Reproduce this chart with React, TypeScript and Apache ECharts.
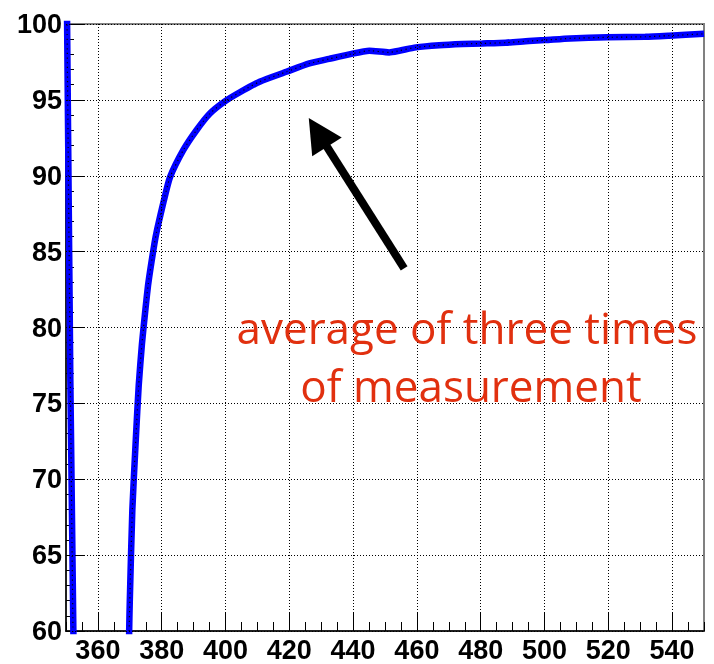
import { useEffect, useRef } from "react";
import * as echarts from "echarts";

// wavelength (nm) and value (%)
const wavelength = [
  350, 353, 360, 368, 369.5, 369.8, 370.0, 370.8, 371.9, 372.8, 373.8, 374.8, 375.8,
  377.7, 378.6, 380.6, 382.6, 386.8, 390.9, 395.1, 399.8, 404.5, 410.7, 419.1,
  426.3, 432.5, 438.8, 445.1, 451.3, 454.5, 459.7, 467.0, 474.3, 480.5, 487.8,
  495.1, 500.2, 508.0, 519.6, 531.6, 539.0, 550.0,
];
const efficiency = [
  108, 48, 0, 0, 50, 60, 62, 68, 72.7, 76.2, 78.9, 81.0, 82.9,
  85.5, 86.5, 88.3, 89.9, 91.7, 93.0, 94.1, 94.9, 95.5, 96.2, 96.85,
  97.4, 97.7, 98.0, 98.24, 98.13, 98.24, 98.46, 98.6, 98.68, 98.72, 98.77,
  98.88, 98.94, 99.05, 99.12, 99.16, 99.23, 99.35,
];
const xTickLabels = [360, 380, 400, 420, 440, 460, 480, 500, 520, 540];
const yTickLabels = [60, 65, 70, 75, 80, 85, 90, 95, 100];
const annotationLines = ["average of three times", "of measurement"];
const arrowTail = [456.0, 83.9];
const arrowTip = [426.1, 93.8];

export default function App() {
  const ref = useRef<HTMLDivElement>(null);
  useEffect(() => {
    if (!ref.current) return;
    const chart = echarts.init(ref.current, undefined, { renderer: "svg" });
    const points = wavelength.map((w, i) => [w, efficiency[i]]);
    const labelFont = {
      color: "#000",
      fontFamily: "Liberation Sans, Arial, sans-serif",
      fontWeight: "bold" as const,
      fontSize: 27,
    };
    chart.setOption({
      animation: false,
      grid: {
        left: 66,
        top: 24,
        right: 10,
        bottom: 33,
        show: true,
        borderColor: "#808080",
        borderWidth: 2,
      },
      xAxis: [
        {
          type: "value",
          min: 350,
          max: 550,
          interval: 5,
          position: "bottom",
          axisLine: { show: true, onZero: false, lineStyle: { color: "#000", width: 1.5 } },
          axisTick: {
            show: true,
            inside: true,
            length: 19,
            customValues: xTickLabels,
            lineStyle: { color: "#000", width: 1 },
          },
          axisLabel: { ...labelFont, customValues: xTickLabels, margin: 5 },
          splitLine: { show: false },
        },
        {
          type: "value",
          min: 350,
          max: 550,
          interval: 5,
          position: "bottom",
          axisLine: { show: false },
          axisTick: { show: true, inside: true, length: 9, lineStyle: { color: "#000", width: 1 } },
          axisLabel: { show: false },
          splitLine: { show: false },
        },
      ],
      yAxis: {
        type: "value",
        min: yTickLabels[0],
        max: yTickLabels[yTickLabels.length - 1],
        interval: 5,
        axisLine: { show: true, onZero: false, lineStyle: { color: "#000", width: 1.5 } },
        axisTick: { show: true, inside: true, length: 18, lineStyle: { color: "#000", width: 1 } },
        minorTick: { show: true, splitNumber: 5, length: 8, lineStyle: { color: "#000", width: 1 } },
        axisLabel: { ...labelFont, margin: 4, showMinLabel: true, showMaxLabel: true },
        splitLine: { show: false },
      },
      series: [
        {
          type: "line",
          xAxisIndex: 0,
          data: points,
          symbol: "none",
          clip: true,
          smooth: 0.2,
          lineStyle: { color: "#0000ff", width: 6.5 },
          z: 3,
          markLine: {
            silent: true,
            symbol: "none",
            label: { show: false },
            lineStyle: { color: "#000", width: 1, type: [1, 2] },
            data: [
              ...xTickLabels.map((v) => ({ xAxis: v })),
              ...yTickLabels.map((v) => ({ yAxis: v })),
            ],
          },
        },
        {
          type: "line",
          xAxisIndex: 0,
          data: points,
          symbol: "none",
          clip: true,
          smooth: 0.2,
          lineStyle: { color: "#000", width: 1.2, type: [1.2, 3.5] },
          z: 4,
        },
      ],
    });

    const tip = chart.convertToPixel({ xAxisIndex: 0, yAxisIndex: 0 }, arrowTip) as number[];
    const tail = chart.convertToPixel({ xAxisIndex: 0, yAxisIndex: 0 }, arrowTail) as number[];
    const dx = tip[0] - tail[0];
    const dy = tip[1] - tail[1];
    const len = Math.hypot(dx, dy);
    const ux = dx / len;
    const uy = dy / len;
    const headLen = 34;
    const headHalf = 17.5;
    const bx = tip[0] - ux * headLen;
    const by = tip[1] - uy * headLen;
    const textStyle = {
      fill: "#e1300f",
      fontSize: 44,
      fontFamily: "Open Sans",
      align: "center",
      verticalAlign: "middle",
    };
    chart.setOption({
      graphic: [
        {
          type: "line",
          shape: { x1: tail[0], y1: tail[1], x2: bx + ux * 3, y2: by + uy * 3 },
          style: { stroke: "#000", lineWidth: 8 },
          z: 10,
        },
        {
          type: "polygon",
          shape: {
            points: [
              [tip[0], tip[1]],
              [bx - uy * headHalf, by + ux * headHalf],
              [bx + uy * headHalf, by - ux * headHalf],
            ],
          },
          style: { fill: "#000" },
          z: 10,
        },
        {
          type: "text",
          x: 467,
          y: 327,
          style: { ...textStyle, text: annotationLines[0] },
          z: 10,
        },
        {
          type: "text",
          x: 471,
          y: 385,
          style: { ...textStyle, text: annotationLines[1] },
          z: 10,
        },
      ],
    });
    return () => chart.dispose();
  }, []);
  return (
    <div
      ref={ref}
      style={{ position: "fixed", left: 0, top: 0, width: 714, height: 664 }}
    />
  );
}
